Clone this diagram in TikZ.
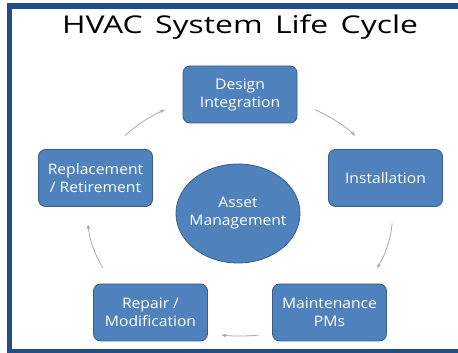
\documentclass[tikz,border=0pt]{standalone}
\usepackage{fontspec}
\setmainfont{Open Sans}
\newfontfamily\titlefont[FakeStretch=1.3,WordSpace=1.5]{Open Sans}
\newfontfamily\labelfont[FakeStretch=1.08]{Open Sans}
\usetikzlibrary{shapes.geometric,calc,arrows.meta}
\definecolor{framec}{RGB}{36,77,136}
\definecolor{boxfill}{RGB}{79,129,189}
\definecolor{boxdraw}{RGB}{56,93,138}
\definecolor{arrc}{RGB}{165,172,182}
\begin{document}
\begin{tikzpicture}[x=1pt,y=1pt,
  boxfont/.style={font=\labelfont\fontsize{14.5}{18}\selectfont},
  stagebox/.style={draw=boxdraw, line width=0.8pt, fill=boxfill, rounded corners=7pt,
    minimum width=114pt, minimum height=57pt, text=white, align=center,
    boxfont, inner sep=2pt},
  hubnode/.style={draw=boxdraw, line width=0.8pt, fill=boxfill, ellipse,
    minimum width=124pt, minimum height=99pt, text=white, align=center,
    boxfont, inner xsep=-5pt, inner ysep=0pt},
  cyc/.style={draw=arrc, line width=0.8pt, -{Stealth[length=5pt,width=4pt]}}]
\useasboundingbox (0,0) rectangle (458,353);
\fill[white] (0,0) rectangle (458,353);
% frame
\draw[framec, line width=5.5pt] (470,347) -- (9.5,347) -- (9.5,1.5) -- (470,1.5);
% title
\node[anchor=base, font=\titlefont\fontsize{24.5}{30}\selectfont] (title) at (240,319) {HVAC System Life Cycle};
% stages
\node[stagebox] (design) at (240,258.5) {Design\\Integration};
\node[stagebox] (install) at (385.5,175) {Installation};
\node[stagebox] (maint) at (329.5,40.5) {Maintenance\\PMs};
\node[stagebox] (repair) at (150.5,40.5) {Repair /\\Modification};
\node[stagebox] (repl) at (95.5,175) {Replacement\\/ Retirement};
\node[hubnode] (hub) at (238,139.5) {Asset\\Management};
% cycle arrows on an ellipse
\coordinate (c) at (240,138);
\coordinate (a1) at ($(c)+(139:152.5pt and 121pt)$);
\coordinate (a2) at ($(c)+(60.5:152.5pt and 121pt)$);
\coordinate (a3) at ($(c)+(-4:152.5pt and 121pt)$);
\coordinate (a4) at ($(c)+(-83:152.5pt and 121pt)$);
\coordinate (a5) at ($(c)+(206:152.5pt and 121pt)$);
\draw[cyc] (a1) arc[start angle=139, end angle=119.5, x radius=152.5pt, y radius=121pt];
\draw[cyc] (a2) arc[start angle=60.5, end angle=41, x radius=152.5pt, y radius=121pt];
\draw[cyc] (a3) arc[start angle=-4, end angle=-26, x radius=152.5pt, y radius=121pt];
\draw[cyc] (a4) arc[start angle=-83, end angle=-97, x radius=152.5pt, y radius=121pt];
\draw[cyc] (a5) arc[start angle=206, end angle=184.5, x radius=152.5pt, y radius=121pt];
\end{tikzpicture}
\end{document}
